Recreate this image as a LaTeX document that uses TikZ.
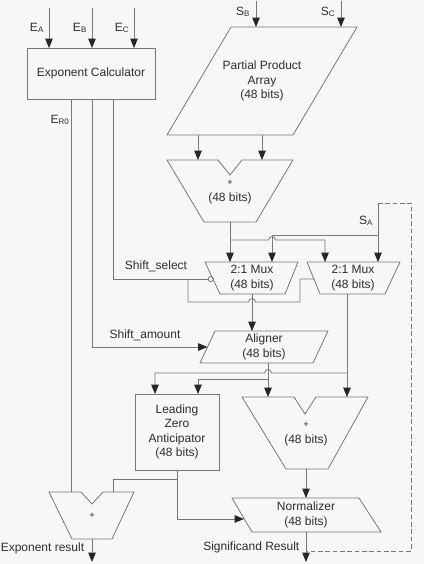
\documentclass[tikz,border=0pt]{standalone}
\usepackage{fontspec}
\setmainfont{Liberation Sans}
\usetikzlibrary{arrows.meta}
\definecolor{linecol}{RGB}{120,120,120}
\definecolor{txtcol}{RGB}{45,45,45}
\definecolor{bgcol}{RGB}{247,247,247}
\begin{document}
\begin{tikzpicture}[x=0.75pt,y=-0.75pt,
  every node/.style={font=\fontsize{9}{10.8}\selectfont, text=txtcol, inner sep=0pt, align=center},
  blk/.style={draw=linecol, line width=0.6pt, line join=miter},
  wire/.style={draw=linecol, line width=0.6pt},
  arr/.style={wire, -{Triangle[length=7pt,width=5.6pt,color=black!85]}},
  dashwire/.style={wire, dash pattern=on 3.5pt off 2pt},
  small/.style={font=\fontsize{7}{8}\selectfont}]
\fill[bgcol] (0,0) rectangle (424,564);
\useasboundingbox (0,0) rectangle (424,564);

% ---------- Exponent calculator ----------
\draw[blk] (27,48) rectangle (155,99);
\node (ec) at (91,73) {Exponent Calculator};
\coordinate (eaT) at (49,8);  \coordinate (eaB) at (49,48);
\coordinate (ebT) at (92,8);  \coordinate (ebB) at (92,48);
\coordinate (ecT) at (134,8); \coordinate (ecB) at (134,48);
\draw[arr] (eaT) -- (eaB);
\draw[arr] (ebT) -- (ebB);
\draw[arr] (ecT) -- (ecB);
\node (lea) at (37,28) {E\textsubscript{A}};
\node (leb) at (80,28) {E\textsubscript{B}};
\node (lec) at (122,28) {E\textsubscript{C}};
\node (ler) at (60,120) {E\textsubscript{R0}};

% ---------- Partial product array ----------
\draw[blk] (231,27) -- (357,27) -- (293,135) -- (167,135) -- cycle;
\node (ppa) at (262,81) {Partial Product\\Array\\(48 bits)};
\coordinate (sbT) at (256,1); \coordinate (sbB) at (256,27);
\coordinate (scT) at (341,1); \coordinate (scB) at (341,27);
\draw[arr] (sbT) -- (sbB);
\draw[arr] (scT) -- (scB);
\node (lsb) at (243,12) {S\textsubscript{B}};
\node (lsc) at (328,12) {S\textsubscript{C}};

% ---------- adder 1 ----------
\draw[blk] (167,160) -- (218,160) -- (230,175) -- (242,160) -- (293,160) -- (256,222) -- (204,222) -- cycle;
\node[small] (a1p) at (230,183) {+};
\node (a1b) at (230,198) {(48 bits)};
\coordinate (p1T) at (198,135); \coordinate (p1B) at (198,160);
\coordinate (p2T) at (262,135); \coordinate (p2B) at (262,160);
\draw[arr] (p1T) -- (p1B);
\draw[arr] (p2T) -- (p2B);

% ---------- muxes ----------
\draw[blk] (205,262) -- (298,262) -- (285,294) -- (220,294) -- cycle;
\node (m1) at (252,278) {2:1 Mux\\(48 bits)};
\draw[blk] (307,262) -- (400,262) -- (385,294) -- (320,294) -- cycle;
\node (m2) at (353,278) {2:1 Mux\\(48 bits)};
\node[circle, draw=linecol, line width=0.6pt, minimum size=4pt, inner sep=0pt] (inv) at (210.8,279) {};

% adder1 output to muxes
\coordinate (a1o) at (230,222);
\coordinate (m1a) at (230,262);
\coordinate (j1) at (230,240);
\coordinate (m2a) at (325,262);
\draw[arr] (a1o) -- (m1a);
\draw[arr] (j1) -- (268.5,240) .. controls (268.5,235.5) and (275.5,235.5) .. (275.5,240) -- (325,240) -- (m2a);

% S_A
\coordinate (saT) at (378,203);
\coordinate (m2b) at (378,262);
\coordinate (jsa) at (378,235);
\coordinate (m1b) at (272,262);
\draw[arr] (saT) -- (m2b);
\draw[arr] (jsa) -- (272,235) -- (m1b);
\node (lsa) at (366,221) {S\textsubscript{A}};
\coordinate (res) at (306,551);
\draw[dashwire] (saT) -- (411,203) -- (411,551) -- (res);

% shift select
\coordinate (ss0) at (113,99);
\coordinate (jss) at (188,279);
\coordinate (m2s) at (314.5,279);
\draw[wire] (ss0) -- (113,279) -- (inv.west);
\draw[wire] (jss) -- (188,302) -- (248.5,302) .. controls (248.5,297.5) and (255.5,297.5) .. (255.5,302) -- (300,302) -- (300,279) -- (m2s);
\node (lss) at (156,266) {Shift\_select};

% ---------- aligner ----------
\draw[blk] (215,331) -- (328,331) -- (313,363) -- (200,363) -- cycle;
\node (al) at (264,347) {Aligner\\(48 bits)};
\coordinate (m1o) at (252,294);
\coordinate (alT) at (252,331);
\draw[arr] (m1o) -- (alT);
\coordinate (sa0) at (92,99);
\coordinate (alL) at (207.5,347);
\draw[arr] (sa0) -- (92,347) -- (alL);
\node (lsam) at (145,335) {Shift\_amount};

% ---------- LZA ----------
\draw[blk] (135,394) rectangle (219,470);
\node (lza) at (177,432) {Leading\\Zero\\Anticipator\\(48 bits)};

% ---------- adder 2 ----------
\draw[blk] (242,397) -- (294,397) -- (305,414) -- (316,397) -- (368,397) -- (328,469) -- (286,469) -- cycle;
\node[small] (a2p) at (306,425) {+};
\node (a2b) at (306,440) {(48 bits)};

% mux2 output
\coordinate (m2o) at (347,294);
\coordinate (a2r) at (347,397);
\coordinate (jm2) at (347,373);
\coordinate (lzaA) at (155,394);
\draw[arr] (m2o) -- (a2r);
\draw[arr] (jm2) -- (271.5,373) .. controls (271.5,368.5) and (264.5,368.5) .. (264.5,373) -- (155,373) -- (lzaA);
% aligner output
\coordinate (alo) at (268,363);
\coordinate (a2l) at (268,397);
\coordinate (jal) at (268,379);
\coordinate (lzaB) at (198,394);
\draw[arr] (alo) -- (a2l);
\draw[arr] (jal) -- (198,379) -- (lzaB);

% ---------- normalizer ----------
\draw[blk] (232,498) -- (359,498) -- (381,532) -- (252,532) -- cycle;
\node (nrm) at (306,515) {Normalizer\\(48 bits)};
\coordinate (a2o) at (306,469);
\coordinate (nT) at (306,498);
\draw[arr] (a2o) -- (nT);
\coordinate (nB) at (306,532);
\coordinate (sigE) at (306,562);
\draw[arr] (nB) -- (sigE);
\node[anchor=west] (lsig) at (203,547) {Significand Result};

% LZA output
\coordinate (lzo) at (177,470);
\coordinate (nL) at (244,519);
\draw[arr] (lzo) -- (177,519) -- (nL);
\coordinate (jlz) at (177,479);
\coordinate (eaddR) at (113,492);
\draw[wire] (jlz) -- (113,479) -- (eaddR);

% ---------- exponent adder ----------
\draw[blk] (49,492) -- (81,492) -- (92,504) -- (103,492) -- (134,492) -- (112,539) -- (72,539) -- cycle;
\node[small] (eap) at (92,516) {+};
\coordinate (er0) at (71,99);
\coordinate (eaddL) at (71,492);
\draw[wire] (er0) -- (eaddL);
\coordinate (eo) at (92,539);
\coordinate (eE) at (92,562);
\draw[arr] (eo) -- (eE);
\node[anchor=west] (lexp) at (0.5,548) {Exponent result};
\end{tikzpicture}
\end{document}
